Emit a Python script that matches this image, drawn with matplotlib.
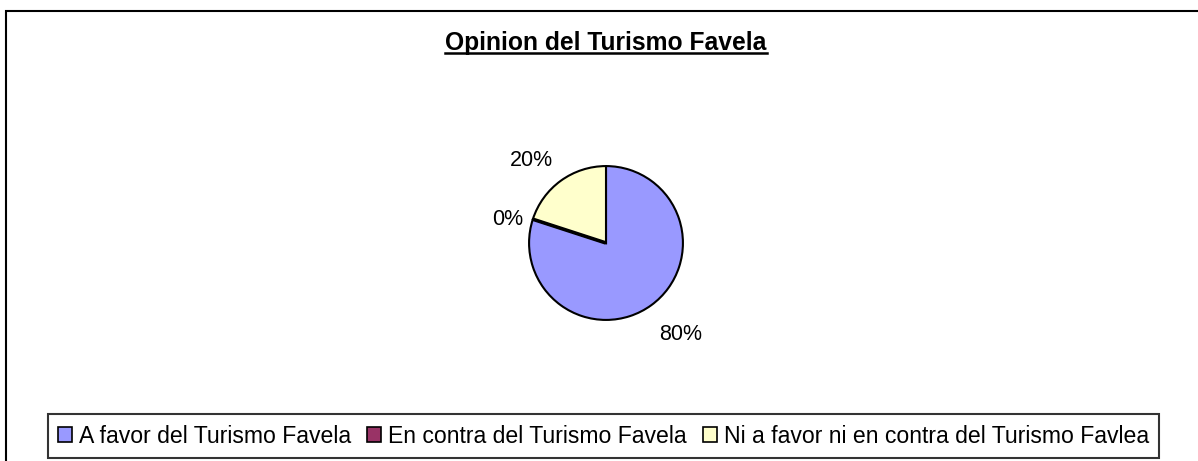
import matplotlib.pyplot as plt
import numpy as np
from matplotlib.patches import Rectangle
from matplotlib.lines import Line2D

# datos
categorias = ["A favor del Turismo Favela",
              "En contra del Turismo Favela",
              "Ni a favor ni en contra del Turismo Favlea"]
valores = [80, 0, 20]
etiquetas = ["80%", "0%", "20%"]
colores = ["#9999FF", "#993366", "#FFFFCC"]
titulo = "Opinion del Turismo Favela"

plt.rcParams['font.family'] = ['Liberation Sans', 'DejaVu Sans']

W, H = 1198, 461
fig = plt.figure(figsize=(W / 100, H / 100), dpi=100)

# marco exterior (se sale de la imagen por la derecha y abajo)
fig.patches.append(Rectangle((6 / W, -0.1), 1.2, (H - 11) / H + 0.1, transform=fig.transFigure,
                             fill=False, edgecolor="black", linewidth=1.5, clip_on=False))

# pastel: centro (606, 243), radio ~77 px
cx, cy, lado = 606, 243, 200
ax = fig.add_axes([(cx - lado / 2) / W, (H - cy - lado / 2) / H, lado / W, lado / H])
wedges, _ = ax.pie(valores, colors=colores, startangle=90, counterclock=False,
                   wedgeprops=dict(edgecolor="black", linewidth=1.5))
wedges[1].set_linewidth(2.6)  # la porcion de 0% se ve como una linea mas gruesa
wedges[1].set_zorder(3)
ax.set_xlim(-1.3, 1.3)
ax.set_ylim(-1.3, 1.3)
ax.set_aspect("equal")
ax.axis("off")

# etiquetas: distancia radial y pequeño giro respecto al centro de cada porcion
distancias = [1.5, 1.32, 1.48]
giros = [4, 3, 5]
for w, txt, d, g in zip(wedges, etiquetas, distancias, giros):
    ang = np.deg2rad((w.theta1 + w.theta2) / 2 + g)
    ax.text(d * np.cos(ang), d * np.sin(ang) - 0.04, txt, ha="center", va="center",
            fontsize=15.5, clip_on=False)

# titulo subrayado
t = fig.text(606 / W, 1 - 43 / H, titulo, ha="center", va="center",
             fontsize=17.7, fontweight="bold")
fig.canvas.draw()
bb = t.get_window_extent()
yl = 1 - 53 / H
fig.lines.append(Line2D([bb.x0 / W, bb.x1 / W], [yl, yl], transform=fig.transFigure,
                        color="black", linewidth=1.8))

# leyenda
handles = [Rectangle((0, 0), 1, 1, facecolor=c, edgecolor="black", linewidth=1.2) for c in colores]
leg = fig.legend(handles, categorias, ncol=3, loc="lower center",
                 bbox_to_anchor=(603.5 / W, 3 / H), frameon=True, fancybox=False,
                 fontsize=16.6, handlelength=0.6, handleheight=0.6, handletextpad=0.3,
                 columnspacing=0.7, borderpad=0.45, borderaxespad=0)
leg.get_frame().set_edgecolor("black")
leg.get_frame().set_linewidth(1.5)

fig.savefig("out.png", dpi=100)
